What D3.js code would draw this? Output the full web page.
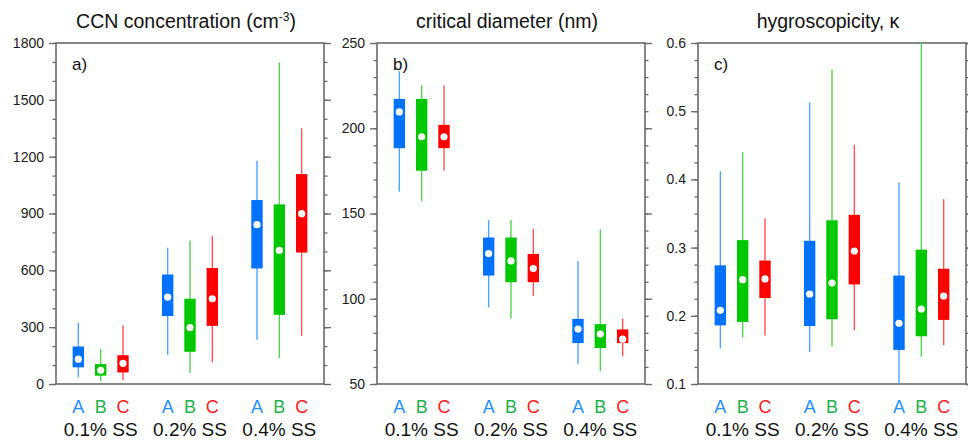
<!DOCTYPE html>
<html><head><meta charset="utf-8">
<script src="https://cdn.jsdelivr.net/npm/d3@7"></script>
<style>body{margin:0;background:#fff}svg{display:block;font-family:"Liberation Sans",Arial,Helvetica,sans-serif}</style>
</head><body><svg id="c" width="968" height="444"></svg>
<script>
// ---- data ----
const groups = ["0.1% SS", "0.2% SS", "0.4% SS"];
const cases = ["A", "B", "C"];
const caseColors = ["#0072ff", "#00c800", "#ff0000"];
const whiskerColors = ["#4fa3ff", "#52d352", "#ff5252"];
const labelColors = ["#1e90ff", "#1db24a", "#ff1a1a"];
const titles = ["CCN concentration (cm", "critical diameter (nm)", "hygroscopicity, \u03ba"];
const panelLetters = ["a)", "b)", "c)"];
// each box: [whisker low, Q1, median, Q3, whisker high], order A,B,C per SS group
const ccnStats = [
  [35, 88, 131, 198, 324], [14, 44, 72, 105, 184], [21, 61, 109, 152, 310],
  [154, 359, 459, 578, 719], [58, 170, 298, 450, 757], [114, 307, 450, 612, 783],
  [233, 610, 841, 971, 1178], [137, 365, 705, 948, 1697], [254, 694, 899, 1108, 1350]
];
const dcStats = [
  [162.8, 188.3, 209.6, 217.2, 233.4], [157.1, 175.1, 195, 217.2, 225.2], [175.1, 188.3, 195, 202, 225.2],
  [94.9, 113.6, 126.5, 135.9, 146.2], [88.4, 109.7, 122.2, 135.9, 146.2], [101.7, 109.7, 117.7, 126.3, 141.1],
  [61.7, 74, 82.2, 88.2, 122.2], [57.4, 71.1, 79.3, 85.1, 140.7], [66.2, 74, 76.3, 82, 88.4]
];
const kappaStats = [
  [0.152, 0.186, 0.208, 0.274, 0.412], [0.168, 0.191, 0.253, 0.311, 0.440], [0.171, 0.226, 0.254, 0.281, 0.343],
  [0.147, 0.185, 0.232, 0.310, 0.513], [0.155, 0.195, 0.248, 0.340, 0.561], [0.179, 0.246, 0.295, 0.348, 0.451],
  [0.100, 0.150, 0.189, 0.259, 0.396], [0.140, 0.170, 0.210, 0.297, 0.600], [0.157, 0.194, 0.229, 0.269, 0.371]
];
const ccnMajor = [0, 300, 600, 900, 1200, 1500, 1800];
const ccnMinor = d3.range(0, 1801, 100);
const dcMajor = [50, 100, 150, 200, 250];
const dcMinor = d3.range(50, 251, 10);
const kMajor = [0.1, 0.2, 0.3, 0.4, 0.5, 0.6];
const kMinor = d3.range(0, 21).map(i => 0.1 + i * 0.025);

const panels = [
  {stats: ccnStats, dom: [0, 1800], major: ccnMajor, minor: ccnMinor, fmt: d3.format("d")},
  {stats: dcStats, dom: [50, 250], major: dcMajor, minor: dcMinor, fmt: d3.format("d")},
  {stats: kappaStats, dom: [0.1, 0.6], major: kMajor, minor: kMinor, fmt: d3.format(".1f")}
];

// ---- layout ----
const svg = d3.select("#c");
const X0 = [56, 377, 698], PW = 268, Y0 = 43, Y1 = 384;
const frameColor = "#6a6a6a";

panels.forEach((p, pi) => {
  const x0 = X0[pi];
  const x = d3.scaleLinear().domain([0, 12]).range([x0, x0 + PW]);
  const y = d3.scaleLinear().domain(p.dom).range([Y1, Y0]);
  const g = svg.append("g");
  const cid = "clip" + pi;
  svg.append("clipPath").attr("id", cid).append("rect")
    .attr("x", x0).attr("y", Y0).attr("width", PW).attr("height", Y1 - Y0);

  // axes (ticks outward both sides)
  const addAxis = (axis, tx) => {
    const a = g.append("g").attr("transform", `translate(${tx},0)`).call(axis);
    a.select(".domain").remove();
    a.selectAll(".tick line").attr("stroke", frameColor).attr("stroke-width", 1.3);
    a.selectAll(".tick text").attr("fill", "#1a1a1a").style("font-size", "14px")
      .style("font-family", '"Liberation Sans",Arial,sans-serif');
    return a;
  };
  addAxis(d3.axisLeft(y).tickValues(p.minor).tickSize(3.5).tickFormat(""), x0);
  addAxis(d3.axisRight(y).tickValues(p.minor).tickSize(3.5).tickFormat(""), x0 + PW);
  addAxis(d3.axisLeft(y).tickValues(p.major).tickSize(7).tickPadding(5).tickFormat(p.fmt), x0);
  addAxis(d3.axisRight(y).tickValues(p.major).tickSize(7).tickFormat(""), x0 + PW);

  g.append("rect").attr("x", x0).attr("y", Y0).attr("width", PW).attr("height", Y1 - Y0)
    .attr("fill", "none").attr("stroke", frameColor).attr("stroke-width", 1.6);

  // boxes
  const bw = x(0.51) - x(0);
  const marks = g.append("g").attr("clip-path", `url(#${cid})`);
  p.stats.forEach((s, i) => {
    const gi = Math.floor(i / 3), ci = i % 3;
    const cx = x(gi * 4 + ci + 1);
    marks.append("line").attr("x1", cx).attr("x2", cx).attr("y1", y(s[0])).attr("y2", y(s[4]))
      .attr("stroke", whiskerColors[ci]).attr("stroke-width", 1.4);
    marks.append("rect").attr("x", cx - bw / 2).attr("width", bw)
      .attr("y", y(s[3])).attr("height", y(s[1]) - y(s[3]))
      .attr("fill", caseColors[ci]);
    marks.append("circle").attr("cx", cx).attr("cy", y(s[2])).attr("r", 3.6).attr("fill", "#fff");
  });

  // panel letter
  g.append("text").attr("x", x0 + 16).attr("y", 70).attr("fill", "#111")
    .style("font-size", "17px").text(panelLetters[pi]);

  // title
  const t = g.append("text").attr("x", x0 + PW / 2 - 4).attr("y", 28).attr("text-anchor", "middle")
    .attr("fill", "#111").style("font-size", "19.5px").text(titles[pi]);
  if (pi === 0) {
    t.append("tspan").attr("dy", -7).style("font-size", "12px").text("-3");
    t.append("tspan").attr("dy", 7).text(")");
  }

  // x labels
  groups.forEach((gl, gi) => {
    cases.forEach((c, ci) => {
      g.append("text").attr("x", x(gi * 4 + ci + 1)).attr("y", 413).attr("text-anchor", "middle")
        .attr("fill", labelColors[ci]).style("font-size", "18px").text(c);
    });
    g.append("text").attr("x", x(gi * 4 + 2)).attr("y", 436).attr("text-anchor", "middle")
      .attr("fill", "#111").style("font-size", "19px").text(gl);
  });
});
</script></body></html>
